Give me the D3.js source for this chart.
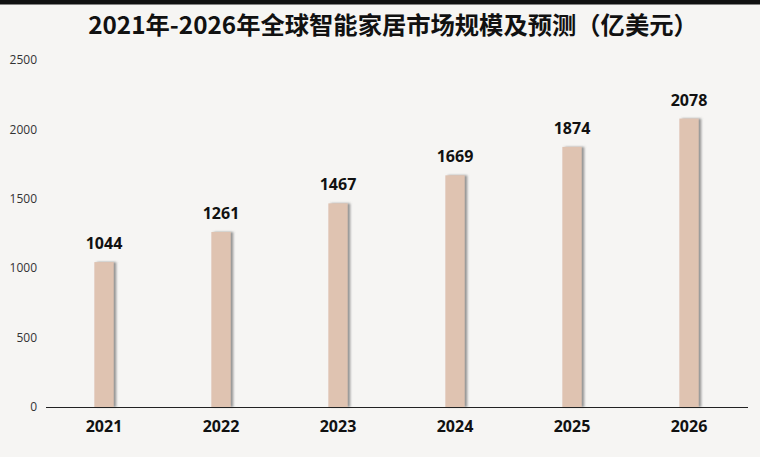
<!DOCTYPE html>
<html><head><meta charset="utf-8">
<script src="https://cdn.jsdelivr.net/npm/d3@7"></script>
<style>
html,body{margin:0;padding:0;background:#f6f5f3;}
svg{display:block;font-family:"Noto Sans CJK SC","Open Sans",sans-serif;}
</style></head>
<body><svg id="c" width="760" height="457"></svg>
<script>
const categories = ["2021","2022","2023","2024","2025","2026"];
const values = [1044,1261,1467,1669,1874,2078];
const yTicks = [0,500,1000,1500,2000,2500];
const title = "2021年-2026年全球智能家居市场规模及预测（亿美元）";

const svg = d3.select("#c");
const W = 760, H = 457;
svg.append("rect").attr("width",W).attr("height",H).attr("fill","#f6f5f3");
svg.append("rect").attr("width",W).attr("height",4.5).attr("fill","#111");

const defs = svg.append("defs");
const f = defs.append("filter").attr("id","sh").attr("x","-20%").attr("y","-5%").attr("width","160%").attr("height","110%");
f.append("feDropShadow").attr("dx",2.5).attr("dy",0).attr("stdDeviation",1.2).attr("flood-color","#666").attr("flood-opacity",0.7);

const x = d3.scaleBand().domain(categories).range([45.5,747.5]).paddingInner(0.835).paddingOuter(0.4175);
const y = d3.scaleLinear().domain([0,2500]).range([407,60]);

svg.append("text").attr("x",393).attr("y",34).attr("text-anchor","middle")
  .attr("font-size",24.3).attr("font-weight","bold").attr("fill","#111").text(title);

// y tick labels
svg.append("g").selectAll("text").data(yTicks).join("text")
  .attr("x",37).attr("y",d=>y(d)).attr("dy","0.35em").attr("text-anchor","end")
  .attr("font-size",12).attr("fill","#333").attr("font-family","'Open Sans',sans-serif").text(d=>d);

// bars
svg.append("g").selectAll("rect").data(values).join("rect")
  .attr("x",(d,i)=>x(categories[i])).attr("width",x.bandwidth())
  .attr("y",d=>y(d)).attr("height",d=>y(0)-y(d))
  .attr("fill","#dfc3b1").attr("filter","url(#sh)");

// x axis line
const xa = svg.append("g").attr("transform",`translate(0,${y(0)})`)
  .call(d3.axisBottom(x).tickSize(0).tickPadding(14));
xa.select(".domain").attr("stroke","#222").attr("stroke-width",1);
xa.selectAll("text").attr("font-size",16).attr("font-weight","bold").attr("fill","#111")
  .attr("font-family","'Open Sans',sans-serif");

// value labels
svg.append("g").selectAll("text").data(values).join("text")
  .attr("x",(d,i)=>x(categories[i])+x.bandwidth()/2).attr("y",d=>y(d)-13)
  .attr("text-anchor","middle").attr("font-size",16).attr("font-weight","bold").attr("fill","#111")
  .attr("font-family","'Open Sans',sans-serif").text(d=>d);
</script></body></html>
